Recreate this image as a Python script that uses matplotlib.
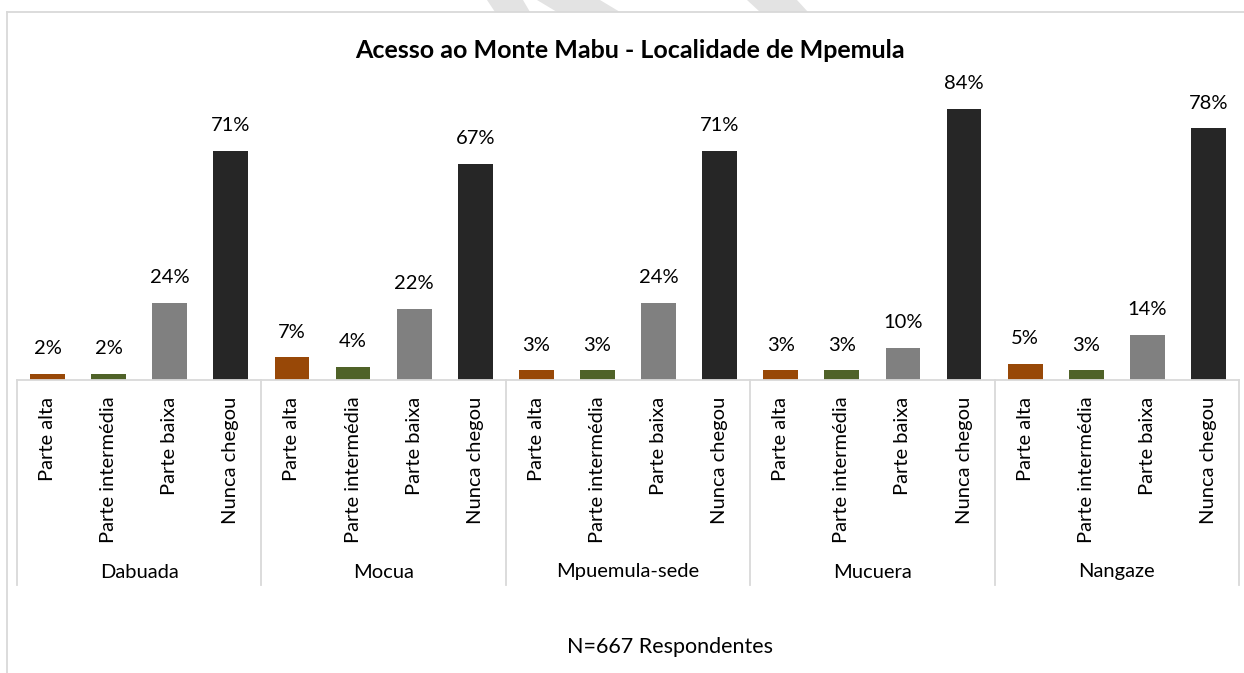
import matplotlib.pyplot as plt
from matplotlib.lines import Line2D
from matplotlib.patches import Polygon
from matplotlib.transforms import blended_transform_factory
import numpy as np

plt.rcParams['font.family'] = ['Lato', 'DejaVu Sans']

groups = ['Dabuada', 'Mocua', 'Mpuemula-sede', 'Mucuera', 'Nangaze']
cats = ['Parte alta', 'Parte intermédia', 'Parte baixa', 'Nunca chegou']
colors = ['#984807', '#4f6228', '#808080', '#262626']

parte_alta = [2, 7, 3, 3, 5]
parte_intermedia = [2, 4, 3, 3, 3]
parte_baixa = [24, 22, 24, 10, 14]
nunca_chegou = [71, 67, 71, 84, 78]

title = 'Acesso ao Monte Mabu - Localidade de Mpemula'
note = 'N=667 Respondentes'

W, H = 1244, 673
fig = plt.figure(figsize=(W / 100, H / 100), dpi=100)

def fx(px):
    return px / W

def fy(py):
    return 1 - py / H

# plot area in pixels
left, right, top, base = 17, 1239, 60, 380
ax = fig.add_axes([fx(left), fy(base), fx(right - left), fy(top) - fy(base)])
px_per_pct = 3.225
ax.set_ylim(0, (base - top) / px_per_pct)

series = [parte_alta, parte_intermedia, parte_baixa, nunca_chegou]
ncat = len(cats)
xs_all, labels_all = [], []
for gi, g in enumerate(groups):
    for ci in range(ncat):
        x = gi * ncat + ci
        v = series[ci][gi]
        ax.bar(x, v, width=0.57, color=colors[ci], zorder=2)
        ax.annotate('%d%%' % v, (x, v), xytext=(0, 12), textcoords='offset points',
                    ha='center', va='bottom', fontsize=14.5, color='#000000')
        xs_all.append(x)
        labels_all.append(cats[ci])

n = len(groups) * ncat
ax.set_xlim(-0.5, n - 0.5)
ax.set_xticks(xs_all)
ax.set_xticklabels(labels_all, rotation=90, va='top', ha='center', fontsize=14.5)
ax.tick_params(axis='x', length=0, pad=12)
ax.set_yticks([])
for s in ['top', 'right', 'left']:
    ax.spines[s].set_visible(False)
ax.spines['bottom'].set_color('#d9d9d9')
ax.spines['bottom'].set_linewidth(1.3)

# group separators and group names
tr = blended_transform_factory(ax.transData, fig.transFigure)
for k in range(len(groups) + 1):
    xb = k * ncat - 0.5
    fig.add_artist(Line2D([xb, xb], [fy(base), fy(585)], transform=tr,
                          color='#d9d9d9', lw=1.3))
for gi, g in enumerate(groups):
    fig.text(gi * ncat + (ncat - 1) / 2, fy(572), g, transform=tr,
             ha='center', va='center', fontsize=14.5)

fig.text(fx(630), fy(51), title, ha='center', va='center',
         fontsize=18, fontweight='bold')
fig.text(fx(670), fy(647), note, ha='center', va='center', fontsize=15.5)

# chart frame
fig.add_artist(Line2D([fx(7), fx(7)], [fy(12), 0], color='#d9d9d9', lw=1.3))
fig.add_artist(Line2D([fx(7), 1], [fy(12), fy(12)], color='#d9d9d9', lw=1.3))

# faint watermark pieces at the top
wm = [
    [(487, 0), (523, 0), (530, 12), (495, 12)],
    [(537, 0), (600, 0), (620, 12), (557, 12)],
    [(747, 0), (797, 0), (808, 12), (760, 12)],
]
for poly in wm:
    fig.add_artist(Polygon([(fx(a), fy(b)) for a, b in poly], closed=True,
                           color='#e3e3e3', lw=0))

fig.savefig('out.png', dpi=100)
